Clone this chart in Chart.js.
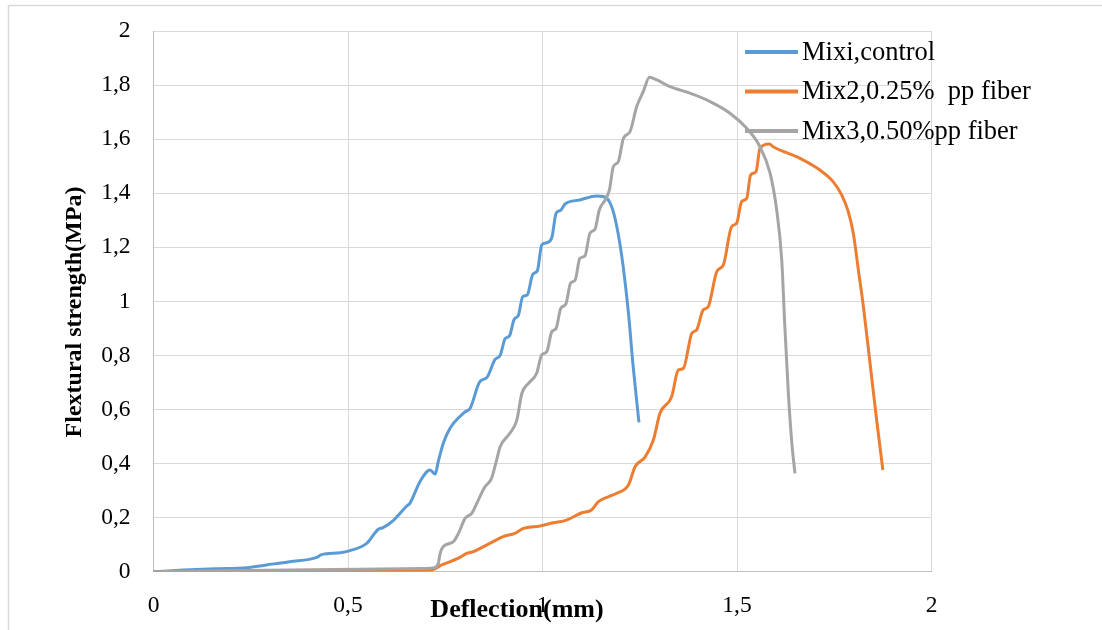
<!DOCTYPE html>
<html>
<head>
<meta charset="utf-8">
<title>Flextural strength vs deflection</title>
<script src="https://cdn.jsdelivr.net/npm/chart.js@4/dist/chart.umd.min.js"></script>
<style>
  html, body { margin: 0; padding: 0; background: #ffffff; }
  #wrap { position: relative; width: 1102px; height: 630px; }
</style>
</head>
<body>
<div id="wrap"><canvas id="chart" width="1102" height="630"></canvas></div>
<script>
// Series names
const seriesLabels = ['Mixi,control', 'Mix2,0.25%  pp fiber', 'Mix3,0.50%pp fiber'];

// Tick labels (comma decimal separator)
const xTickLabels = ['0', '0,5', '1', '1,5', '2'];
const yTickLabels = ['0', '0,2', '0,4', '0,6', '0,8', '1', '1,2', '1,4', '1,6', '1,8', '2'];

// Mix 1 (control): deflection (mm) and flextural strength (MPa)
const mix1X = [0, 0.077, 0.16, 0.24, 0.29, 0.35, 0.42, 0.432, 0.48, 0.505, 0.548, 0.578, 0.59, 0.617, 0.651, 0.659,
  0.685, 0.711, 0.724, 0.732, 0.745, 0.762, 0.80, 0.814, 0.839, 0.857, 0.878, 0.891, 0.904, 0.915, 0.927, 0.938,
  0.949, 0.961, 0.975, 0.987, 0.998, 1.011, 1.024, 1.035, 1.047, 1.058, 1.096, 1.139, 1.156, 1.172, 1.186, 1.203,
  1.221, 1.233, 1.248];
const mix1Y = [0, 0.006, 0.011, 0.015, 0.025, 0.037, 0.053, 0.063, 0.07, 0.078, 0.105, 0.157, 0.163, 0.19, 0.243, 0.253,
  0.333, 0.376, 0.361, 0.407, 0.475, 0.53, 0.59, 0.605, 0.703, 0.718, 0.785, 0.8, 0.862, 0.872, 0.933, 0.948,
  1.017, 1.024, 1.1, 1.114, 1.209, 1.217, 1.236, 1.326, 1.337, 1.36, 1.375, 1.39, 1.388, 1.369, 1.31, 1.175,
  0.956, 0.76, 0.552];

// Mix 2 (0.25% pp fiber)
const mix2X = [0, 0.35, 0.634, 0.7, 0.719, 0.741, 0.784, 0.805, 0.822, 0.857, 0.899, 0.929, 0.951, 0.994, 1.028, 1.058,
  1.101, 1.126, 1.144, 1.169, 1.191, 1.221, 1.238, 1.264, 1.285, 1.302, 1.332, 1.349, 1.362, 1.384, 1.396, 1.413,
  1.426, 1.448, 1.465, 1.486, 1.499, 1.512, 1.525, 1.535, 1.549, 1.559, 1.583, 1.593, 1.662, 1.713, 1.747, 1.769,
  1.786, 1.799, 1.812, 1.825, 1.842, 1.859, 1.875];
const mix2Y = [0, 0.001, 0.004, 0.005, 0.008, 0.025, 0.05, 0.068, 0.074, 0.099, 0.13, 0.142, 0.16, 0.169, 0.181, 0.189,
  0.218, 0.228, 0.259, 0.277, 0.29, 0.321, 0.388, 0.425, 0.487, 0.586, 0.647, 0.746, 0.752, 0.882, 0.894, 0.968,
  0.98, 1.11, 1.135, 1.276, 1.289, 1.369, 1.381, 1.468, 1.48, 1.566, 1.582, 1.572, 1.529, 1.486, 1.443, 1.394,
  1.332, 1.252, 1.116, 0.98, 0.771, 0.561, 0.376];

// Mix 3 (0.50% pp fiber)
const mix3X = [0, 0.35, 0.7, 0.722, 0.732, 0.737, 0.745, 0.771, 0.784, 0.801, 0.818, 0.835, 0.852, 0.869, 0.882, 0.891,
  0.916, 0.934, 0.947, 0.964, 0.985, 0.998, 1.011, 1.024, 1.035, 1.047, 1.06, 1.072, 1.084, 1.096, 1.109, 1.122,
  1.135, 1.146, 1.161, 1.172, 1.182, 1.195, 1.208, 1.225, 1.242, 1.259, 1.275, 1.294, 1.328, 1.379, 1.431, 1.482,
  1.525, 1.559, 1.585, 1.602, 1.615, 1.623, 1.632, 1.641, 1.649];
const mix3Y = [0, 0.006, 0.012, 0.015, 0.03, 0.068, 0.093, 0.111, 0.142, 0.197, 0.216, 0.265, 0.314, 0.345, 0.413, 0.462,
  0.512, 0.561, 0.66, 0.697, 0.734, 0.802, 0.814, 0.888, 0.9, 0.974, 0.99, 1.067, 1.079, 1.159, 1.168, 1.252,
  1.267, 1.338, 1.375, 1.412, 1.498, 1.517, 1.603, 1.628, 1.72, 1.776, 1.829, 1.819, 1.794, 1.77, 1.739, 1.696,
  1.64, 1.572, 1.474, 1.338, 1.153, 0.906, 0.66, 0.475, 0.364];

const seriesColors = ['#5B9BD5', '#ED7D31', '#A5A5A5'];
const SERIF = "'Liberation Serif', 'Times New Roman', serif";

const seriesData = [[mix1X, mix1Y], [mix2X, mix2Y], [mix3X, mix3Y]];
const datasets = seriesData.map(([xs, ys], i) => ({
  label: seriesLabels[i],
  data: xs.map((x, k) => ({ x: x, y: ys[k] })),
  borderColor: seriesColors[i],
  backgroundColor: seriesColors[i],
  borderWidth: 3,
  pointRadius: 0,
  pointHoverRadius: 0,
  showLine: true,
  fill: false,
  cubicInterpolationMode: 'monotone',
  order: 2 - i   // later series drawn on top
}));

// Outer frame (top and left edges visible)
const framePlugin = {
  id: 'frame',
  beforeDraw(chart) {
    const ctx = chart.ctx;
    ctx.save();
    ctx.fillStyle = '#ffffff';
    ctx.fillRect(0, 0, chart.width, chart.height);
    ctx.strokeStyle = '#D9D9D9';
    ctx.lineWidth = 1.5;
    ctx.beginPath();
    ctx.moveTo(8.5, chart.height);
    ctx.lineTo(8.5, 5.5);
    ctx.lineTo(chart.width, 5.5);
    ctx.stroke();
    ctx.restore();
  }
};

// Axis titles and the legend, placed over the plot like the source sheet
const annotatePlugin = {
  id: 'annotate',
  afterDraw(chart) {
    const ctx = chart.ctx;
    ctx.save();
    ctx.fillStyle = '#000000';

    // x-axis title
    ctx.font = 'bold 26px ' + SERIF;
    ctx.textAlign = 'center';
    ctx.textBaseline = 'middle';
    ctx.fillText('Deflection(mm)', 517, 610);

    // y-axis title
    ctx.save();
    ctx.translate(75, 312);
    ctx.rotate(-Math.PI / 2);
    ctx.font = 'bold 24px ' + SERIF;
    ctx.fillText('Flextural strength(MPa)', 0, 0);
    ctx.restore();

    // legend
    ctx.font = '26.5px ' + SERIF;
    ctx.textAlign = 'left';
    ctx.textBaseline = 'middle';
    chart.data.datasets.forEach((ds, i) => {
      const y = 52 + i * 39.5;
      ctx.strokeStyle = ds.borderColor;
      ctx.lineWidth = 4;
      ctx.lineCap = 'butt';
      ctx.beginPath();
      ctx.moveTo(745, y);
      ctx.lineTo(798, y);
      ctx.stroke();
      ctx.fillStyle = '#000000';
      ctx.fillText(ds.label, 802, y + 1);
    });
    ctx.restore();
  }
};

new Chart(document.getElementById('chart'), {
  type: 'scatter',
  data: { datasets: datasets },
  plugins: [framePlugin, annotatePlugin],
  options: {
    responsive: false,
    animation: false,
    devicePixelRatio: 1,
    layout: { padding: { top: 31, right: 170.5, bottom: 0, left: 0 } },
    plugins: {
      legend: { display: false },
      tooltip: { enabled: false },
      title: { display: false }
    },
    scales: {
      x: {
        type: 'linear',
        min: 0,
        max: 2,
        afterFit(scale) {
          scale.height = 58.3;
          scale.paddingLeft = 0;
          scale.paddingRight = 0;
        },
        afterBuildTicks(scale) {
          scale.ticks = xTickLabels.map((_, i) => ({ value: i * 0.5 }));
        },
        ticks: {
          padding: 20,
          color: '#000000',
          maxRotation: 0,
          font: { family: SERIF, size: 23.5 },
          callback: (v, i) => xTickLabels[i]
        },
        grid: { color: '#D9D9D9', lineWidth: 1, drawTicks: false },
        border: { color: '#BFBFBF', width: 1 }
      },
      y: {
        type: 'linear',
        min: 0,
        max: 2,
        afterFit(scale) {
          scale.width = 153.5;
          scale.paddingTop = 0;
          scale.paddingBottom = 0;
        },
        afterBuildTicks(scale) {
          scale.ticks = yTickLabels.map((_, i) => ({ value: i * 0.2 }));
        },
        ticks: {
          padding: 23,
          color: '#000000',
          font: { family: SERIF, size: 23.5 },
          callback: (v, i) => yTickLabels[i]
        },
        grid: { color: '#D9D9D9', lineWidth: 1, drawTicks: false },
        border: { color: '#BFBFBF', width: 1 }
      }
    }
  }
});
</script>
</body>
</html>
